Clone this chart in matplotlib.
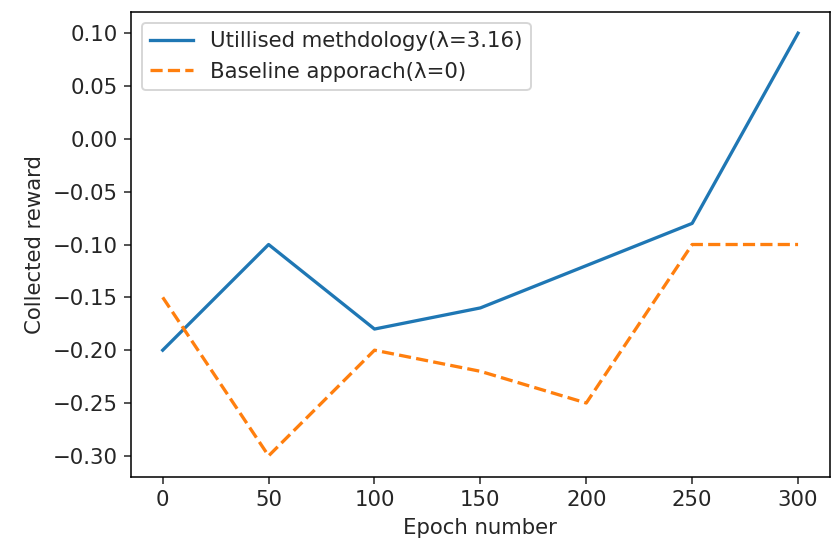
import numpy as np
import matplotlib.pyplot as plt

# datos
epochs = [0, 50, 100, 150, 200, 250, 300]
reward_utilised = [-0.20, -0.10, -0.18, -0.16, -0.12, -0.08, 0.10]
reward_baseline = [-0.15, -0.30, -0.20, -0.22, -0.25, -0.10, -0.10]
yticks = [-0.30, -0.25, -0.20, -0.15, -0.10, -0.05, 0.00, 0.05, 0.10]

plt.rcParams['font.size'] = 11.0
plt.rcParams['text.color'] = '#262626'
plt.rcParams['axes.labelcolor'] = '#262626'
plt.rcParams['xtick.color'] = '#262626'
plt.rcParams['ytick.color'] = '#262626'

fig, ax = plt.subplots(figsize=(6, 547 / 139), dpi=139)
fig.subplots_adjust(left=0.157, right=0.995, top=0.978, bottom=0.128)

ax.plot(epochs, reward_utilised, '-', color='#1f77b4', lw=1.7, label='Utillised methdology(λ=3.16)')
ax.plot(epochs, reward_baseline, '--', color='#ff7f0e', lw=1.7, label='Baseline apporach(λ=0)')

ax.set_xticks(epochs)
ax.set_yticks(yticks)
ax.set_xlabel('Epoch number')
ax.set_ylabel('Collected reward')
ax.legend(loc='upper left')

fig.savefig('out.png', dpi=139)
